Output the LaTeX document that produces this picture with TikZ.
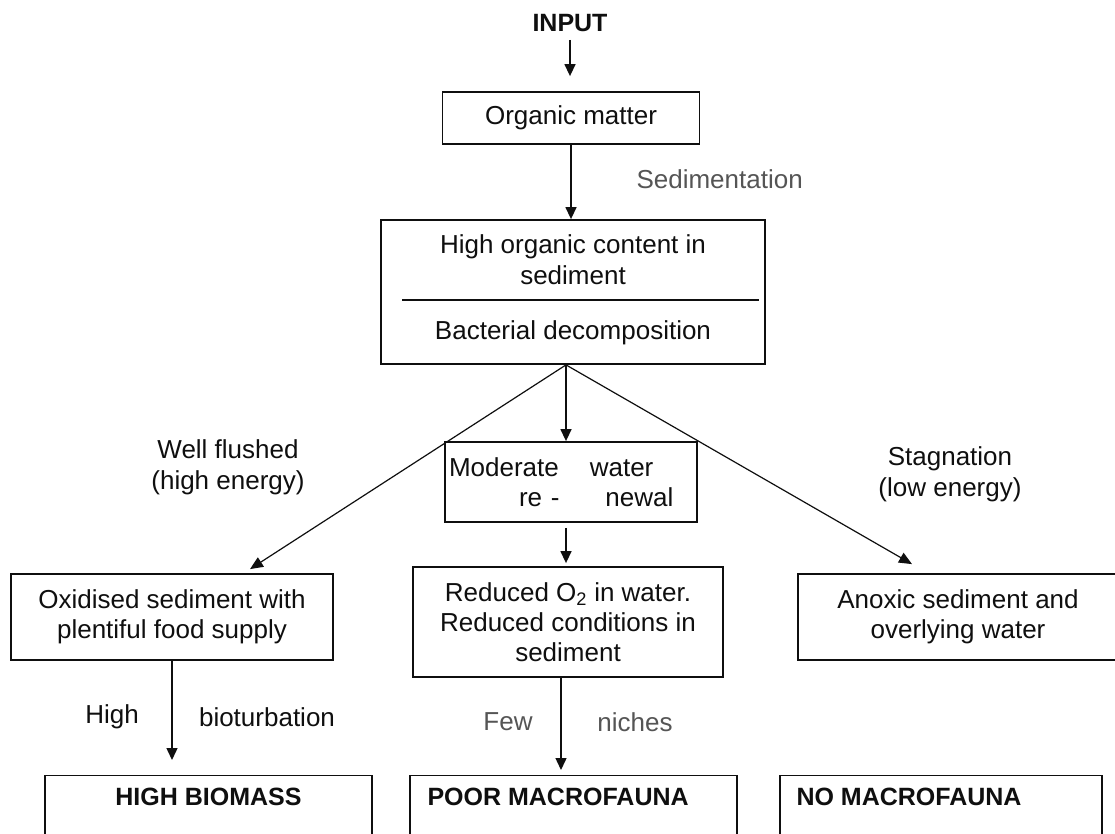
\documentclass[tikz,border=0pt]{standalone}
\usepackage{fontspec}
\setmainfont{Liberation Sans}
\usepackage{tikz}
\usetikzlibrary{arrows.meta,positioning,calc}
\definecolor{ink}{RGB}{15,15,15}
\definecolor{faint}{RGB}{85,85,85}

\begin{document}
\begin{tikzpicture}[
  x=1pt, y=-1pt,
  box/.style={rectangle, draw=ink, line width=1.8pt, align=center, inner sep=3pt, text=ink, font=\fontsize{26}{30}\selectfont},
  endbox/.style={rectangle, draw=ink, line width=1.3pt, minimum height=95pt, anchor=north},
  txt/.style={align=center, text=ink, font=\fontsize{26}{31}\selectfont},
  heading/.style={inner sep=0pt, text=ink, font=\fontsize{25}{30}\selectfont\bfseries},
  arrow/.style={-{Triangle[length=12pt,width=11pt]}, line width=1.4pt, draw=ink},
  branch/.style={-{Triangle[length=13pt,width=11pt]}, line width=1.2pt, draw=ink}
]
  \useasboundingbox (0,0) rectangle (1115,834);
  \fill[white] (0,0) rectangle (1115,834);
  \clip (0,0) rectangle (1115,834);

  \node[heading] (input) at (570,23) {INPUT};
  \node[box, minimum width=257pt, minimum height=52pt] (organic) at (571,118) {Organic matter};
  \node[box, minimum width=384pt, minimum height=144pt] (hoc) at (573,292) {};
  \node[txt] (hoctop) at (573,260) {High organic content in\\sediment};
  \node[txt] (bact) at (573,333) {Bacterial decomposition};
  \node[txt, anchor=west, text=faint] (sedim) at (633,179) {Sedimentation};

  \node[box, minimum width=252pt, minimum height=80pt, text width=244pt, align=left] (renew) at (571,482) {Moderate\hspace{31pt}water\\\hspace*{70pt}re -\hspace{46pt}newal};
  \node[txt] (flushed) at (228,467) {Well flushed\\(high energy)};
  \node[txt] (stagn) at (950,474) {Stagnation\\(low energy)};

  \node[box, minimum width=322pt, minimum height=86pt] (oxid) at (172,617) {Oxidised sediment with\\plentiful food supply};
  \node[box, minimum width=310pt, minimum height=110pt] (reduced) at (568,622) {Reduced O\textsubscript{2} in water.\\Reduced conditions in\\sediment};
  \node[box, minimum width=320pt, minimum height=86pt] (anoxic) at (958,617) {Anoxic sediment and\\overlying water};

  \node[txt] (high) at (112,717) {High};
  \node[txt] (biot) at (267,717) {bioturbation};
  \node[txt, text=faint] (few) at (508,722) {Few};
  \node[txt, text=faint] (niches) at (635,722) {niches};

  \node[endbox, minimum width=327pt] (biomass) at (208.5,775) {};
  \node[endbox, minimum width=327pt] (poor) at (573.5,775) {};
  \node[endbox, minimum width=322pt] (nomacro) at (941,775) {};
  \node[heading, below=13pt of biomass.north] (biomasslbl) {HIGH BIOMASS};
  \node[heading, below right=13pt and 18pt of poor.north west] (poorlbl) {POOR MACROFAUNA};
  \node[heading, below right=13pt and 17pt of nomacro.north west] (nomacrolbl) {NO MACROFAUNA};

  \coordinate (apex) at ([xshift=-7pt]hoc.south);

  \draw[line width=1.3pt, draw=ink] ([xshift=22pt,yshift=-8pt]hoc.west) -- ([xshift=-7pt,yshift=-8pt]hoc.east);

  \draw[arrow, shorten <=8pt, shorten >=15pt] (input) -- (input |- organic.north);
  \draw[arrow] (organic) -- (organic |- hoc.north);
  \draw[branch] (apex) -- ([xshift=78pt,yshift=4pt]oxid.north);
  \draw[branch] (apex) -- ([xshift=-46pt,yshift=9pt]anoxic.north);
  \draw[arrow] (apex) -- (apex |- renew.north);
  \draw[arrow, shorten <=5pt, shorten >=3pt] (renew.south -| apex) -- (apex |- reduced.north);
  \draw[arrow, shorten >=15pt] (oxid) -- (oxid |- biomass.north);
  \draw[arrow, shorten >=5pt] ([xshift=-7pt]reduced.south) -- ([xshift=-7pt]reduced.south |- poor.north);
\end{tikzpicture}
\end{document}
